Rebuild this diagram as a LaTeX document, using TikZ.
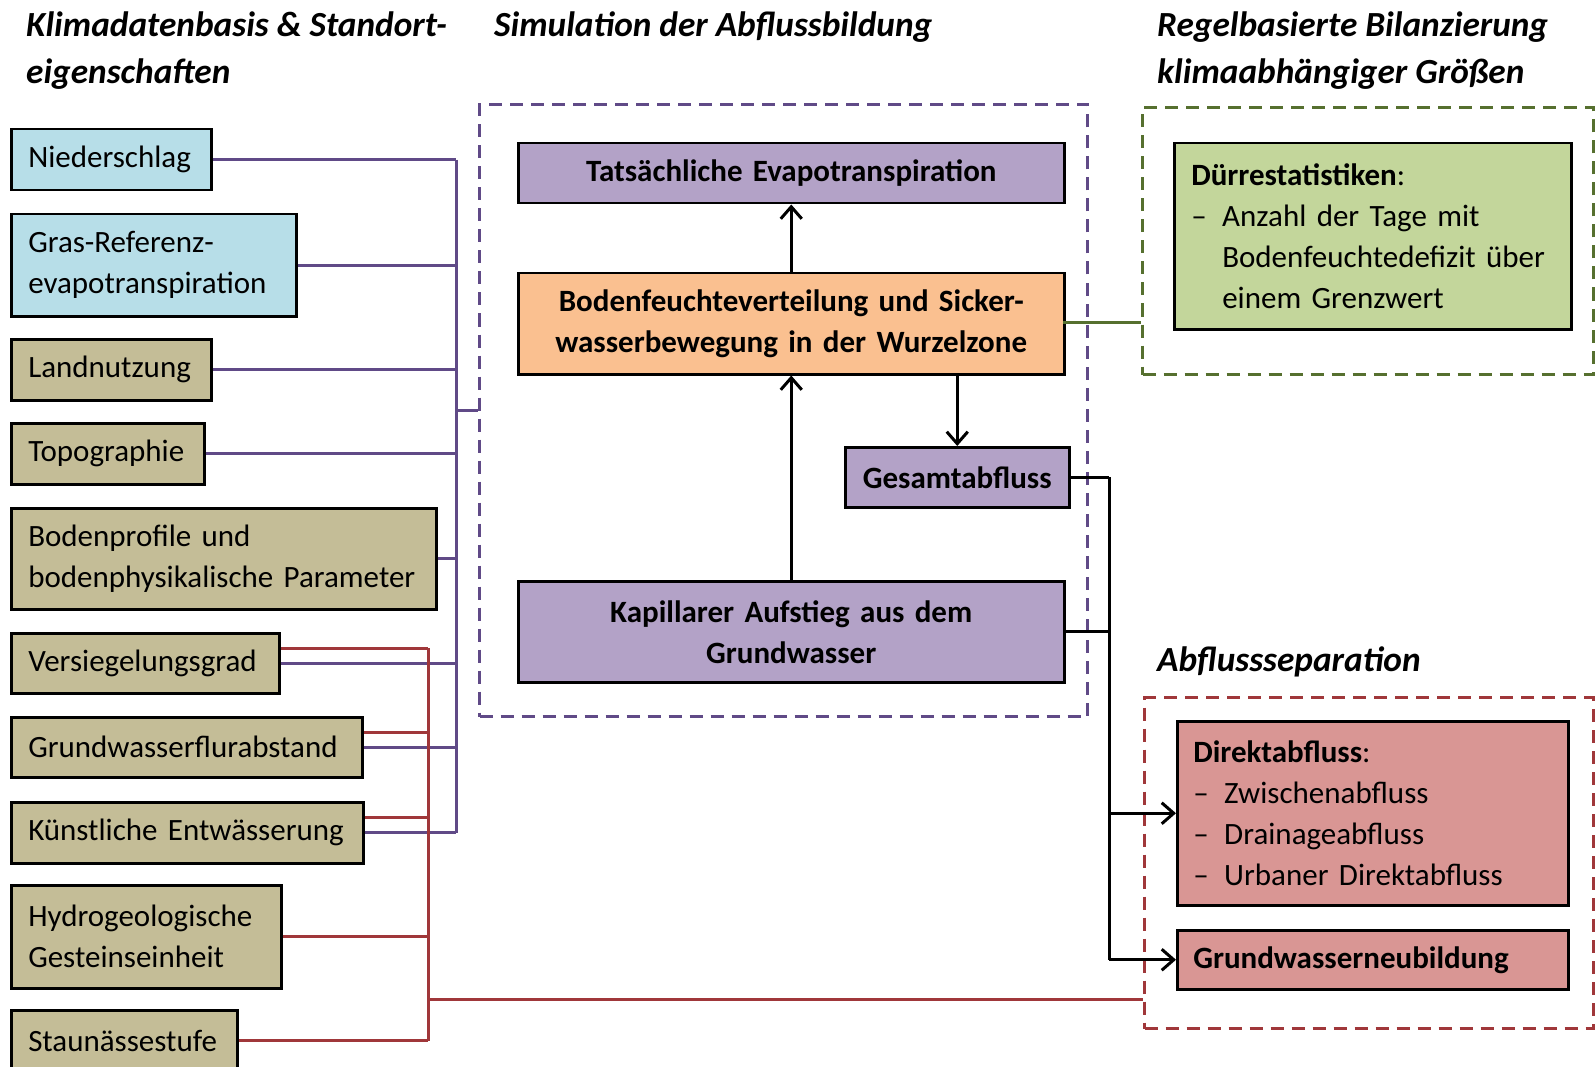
\documentclass[tikz,border=0pt]{standalone}
\usepackage{fontspec}
\setmainfont{Carlito}
\usetikzlibrary{arrows.meta}
\definecolor{cyanfill}{HTML}{B7DEE8}
\definecolor{tanfill}{HTML}{C4BD97}
\definecolor{purfill}{HTML}{B3A2C7}
\definecolor{orafill}{HTML}{FAC090}
\definecolor{grefill}{HTML}{C3D69B}
\definecolor{redfill}{HTML}{D99694}
\definecolor{purline}{HTML}{604A87}
\definecolor{redline}{HTML}{A0373A}
\definecolor{greline}{HTML}{56702F}
\newcommand{\boxfont}{\fontsize{31}{41}\selectfont}
\newcommand{\ttlfont}{\fontsize{35.3}{47}\selectfont\bfseries\itshape}
\newcommand{\dashitem}[1]{\makebox[31pt][l]{–}#1}
\newcommand{\dashcont}[1]{\hspace*{31pt}#1}
\tikzset{
  box/.style={draw=black, line width=2.5pt, inner xsep=17pt, inner ysep=0pt,
    anchor=north west, font=\boxfont},
  lbox/.style={box, align=left},
  cbox/.style={box, align=center, font=\boxfont\bfseries},
  ttl/.style={anchor=base west, inner sep=0pt, font=\ttlfont},
  pline/.style={draw=purline, line width=3pt},
  rline/.style={draw=redline, line width=3pt},
  gline/.style={draw=greline, line width=3pt},
  bline/.style={draw=black, line width=3pt},
  barrow/.style={bline, -{Straight Barb[length=12pt,width=21pt,line width=3pt]}},
  dbox/.style={line width=3pt, dash pattern=on 13pt off 8pt, anchor=north west, inner sep=0pt},
}
\begin{document}
\begin{tikzpicture}[x=1pt,y=-1pt]
\useasboundingbox (0,0) rectangle (1595,1067);

% titles
\node[ttl] (t1a) at (26,36.5) {Klimadatenbasis \& Standort-};
\node[ttl] (t1b) at (26,83.5) {eigenschaften};
\node[ttl] (t2) at (494,36.5) {Simulation der Abflussbildung};
\node[ttl] (t3a) at (1157,36.5) {Regelbasierte Bilanzierung};
\node[ttl] (t3b) at (1157,83.5) {klimaabhängiger Größen};
\node[ttl] (t4) at (1157,671) {Abflussseparation};

% dashed group boxes
\node[dbox, draw=purline, minimum width=608pt, minimum height=612pt] (sim) at (478,103) {};
\node[dbox, draw=greline, minimum width=451pt, minimum height=267pt] (bil) at (1141,106) {};
\node[dbox, draw=redline, minimum width=449pt, minimum height=331pt] (sep) at (1143,696) {};

% left input boxes
\node[lbox, fill=cyanfill, text width=166pt, minimum height=61pt] (n1) at (10,128) {Niederschlag};
\node[lbox, fill=cyanfill, text width=251pt, minimum height=102pt] (n2) at (10,213) {Gras-Referenz-\\evapotranspiration};
\node[lbox, fill=tanfill, text width=166pt, minimum height=61pt] (n3) at (10,338) {Landnutzung};
\node[lbox, fill=tanfill, text width=159pt, minimum height=61pt] (n4) at (10,422) {Topographie};
\node[lbox, fill=tanfill, text width=391pt, minimum height=101pt] (n5) at (10,507) {Bodenprofile und\\bodenphysikalische Parameter};
\node[lbox, fill=tanfill, text width=234pt, minimum height=60pt] (n6) at (10,632) {Versiegelungsgrad};
\node[lbox, fill=tanfill, text width=317pt, minimum height=60pt] (n7) at (10,716) {Grundwasserflurabstand};
\node[lbox, fill=tanfill, text width=318pt, minimum height=61pt] (n8) at (10,801) {Künstliche Entwässerung};
\node[lbox, fill=tanfill, text width=236pt, minimum height=103pt] (n9) at (10,884) {Hydrogeologische\\Gesteinseinheit};
\node[lbox, fill=tanfill, text width=192pt, minimum height=61pt] (n10) at (10,1009) {Staunässestufe};

% middle boxes
\node[cbox, fill=purfill, text width=512pt, minimum height=60pt] (eta) at (517,142) {Tatsächliche Evapotranspiration};
\node[cbox, fill=orafill, text width=512pt, minimum height=101pt] (bod) at (517,272) {Bodenfeuchteverteilung und Sicker-\\wasserbewegung in der Wurzelzone};
\node[cbox, fill=purfill, text width=190pt, minimum height=60pt] (ges) at (844,446) {Gesamtabfluss};
\node[cbox, fill=purfill, text width=512pt, minimum height=101pt] (kap) at (517,580) {Kapillarer Aufstieg aus dem\\Grundwasser};

% right boxes
\node[lbox, fill=grefill, text width=363pt, minimum height=186pt] (due) at (1173,142)
  {\textbf{Dürrestatistiken}:\\\dashitem{Anzahl der Tage mit}\\\dashcont{Bodenfeuchtedefizit über}\\\dashcont{einem Grenzwert}};
\node[lbox, fill=redfill, text width=357pt, minimum height=184pt, inner xsep=16pt, text width=359pt] (dir) at (1176,720)
  {\textbf{Direktabfluss}:\\\dashitem{Zwischenabfluss}\\\dashitem{Drainageabfluss}\\\dashitem{Urbaner Direktabfluss}};
\node[lbox, fill=redfill, inner xsep=16pt, text width=359pt, minimum height=59pt, font=\boxfont\bfseries] (gwn) at (1176,929) {Grundwasserneubildung};

% purple bus
\coordinate (pbus) at (456,158);
\foreach \n in {n1,n2,n3,n4,n5,n6,n7,n8}
  \draw[pline] (\n.east) -- (\n.east -| pbus);
\draw[pline] (n1.east -| pbus) -- (n8.east -| pbus);
\coordinate (ptick) at (456,410);
\draw[pline] (ptick) -- (ptick -| sim.west);

% red bus
\coordinate (rbus) at (428,646);
\foreach \n in {n6,n7,n8}
  \draw[rline] ([yshift=15pt]\n.east) -- ([yshift=15pt]\n.east -| rbus);
\foreach \n in {n9,n10}
  \draw[rline] (\n.east) -- (\n.east -| rbus);
\draw[rline] ([yshift=15pt]n6.east -| rbus) -- (n10.east -| rbus);
\coordinate (rtick) at (428,999);
\draw[rline] (rtick) -- (rtick -| sep.west);

% green link
\coordinate (gtick) at (1063,322);
\draw[gline] (gtick) -- (gtick -| bil.west);

% internal arrows
\draw[barrow] (bod.north) -- (eta.south);
\draw[barrow] (kap.north) -- (bod.south);
\draw[barrow] (ges.north |- bod.south) -- (ges.north);

% black bus to separation
\coordinate (bbus) at (1109,476);
\draw[bline] (ges.east) -- (ges.east -| bbus);
\draw[bline] (kap.east) -- (kap.east -| bbus);
\draw[bline] (ges.east -| bbus) -- (gwn.west -| bbus);
\draw[barrow] (dir.west -| bbus) -- (dir.west);
\draw[barrow] (gwn.west -| bbus) -- (gwn.west);
\end{tikzpicture}
\end{document}
